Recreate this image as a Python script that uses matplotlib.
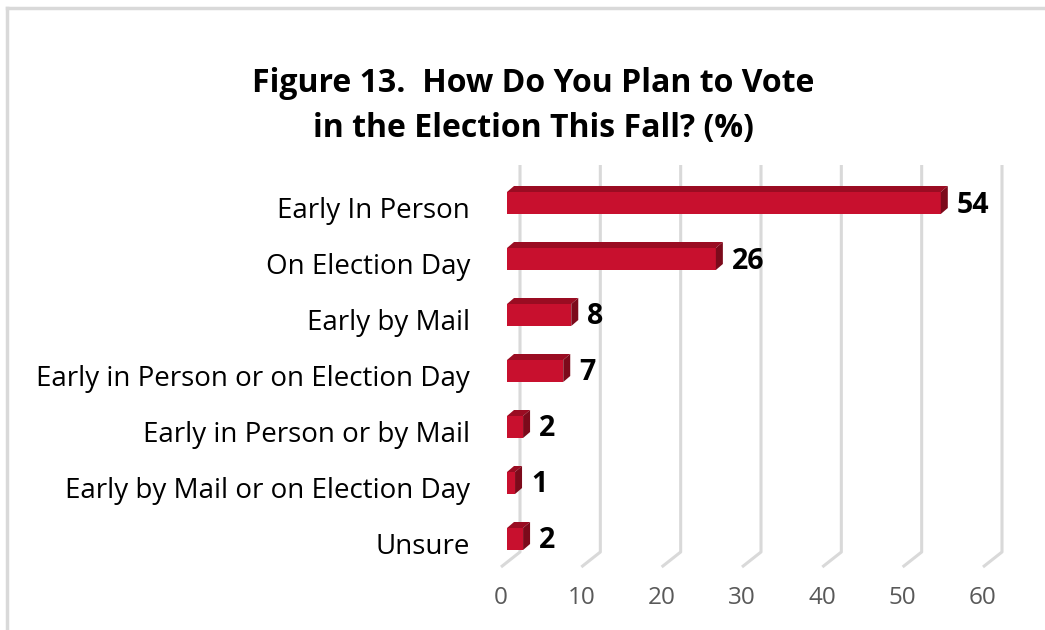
import matplotlib.pyplot as plt
from matplotlib.patches import Polygon, Rectangle
from matplotlib.lines import Line2D

plt.rcParams['font.family'] = ['Open Sans', 'DejaVu Sans']

categories = ['Early In Person', 'On Election Day', 'Early by Mail',
              'Early in Person or on Election Day', 'Early in Person or by Mail',
              'Early by Mail or on Election Day', 'Unsure']
values = [54, 26, 8, 7, 2, 1, 2]
ticks = [0, 10, 20, 30, 40, 50, 60]
title = 'Figure 13.  How Do You Plan to Vote\nin the Election This Fall? (%)'

W, H = 1045, 630
fig = plt.figure(figsize=(W / 100, H / 100), dpi=100)

# plot area in pixels: front plane of the floor runs 0..60
x0, x1 = 501, 983
top, bottom = 160, 575
row, first = 56, 203
ax = fig.add_axes([x0 / W, 1 - bottom / H, (x1 - x0) / W, (bottom - top) / H])
ax.set_xlim(0, 60)
ax.set_ylim((bottom - first) / row, (top - first) / row)
ax.axis('off')

px = 60 / (x1 - x0)   # data units per pixel, x
py = 1 / row          # data units per pixel, y (down is positive)

def ypix(p):
    return (p - first) / row

# back wall gridlines with a slanted foot to the front edge
grid = '#D9D9D9'
for t in ticks:
    xb = t + 19 * px
    ax.plot([xb, xb, t], [ypix(165), ypix(552), ypix(567)], color=grid,
            lw=2.2, clip_on=False, solid_capstyle='butt', zorder=1)
    ax.text(t, ypix(598), str(t), ha='center', va='center', fontsize=17.5,
            color='#595959')

# 3d-looking bars
face, cap, side = '#C8102E', '#9A0C22', '#7C0A1B'
dx, dy = 7 * px, -6 * py
for i, (cat, v) in enumerate(zip(categories, values)):
    xs = 6 * px
    xe = xs + v
    yt, yb = i - 11 * py, i + 11 * py
    ax.add_patch(Rectangle((xs, yt), v, yb - yt, facecolor=face,
                           edgecolor='none', zorder=3))
    ax.add_patch(Polygon([(xs, yt), (xe, yt), (xe + dx, yt + dy), (xs + dx, yt + dy)],
                         closed=True, facecolor=cap, edgecolor='none', zorder=3))
    ax.add_patch(Polygon([(xe, yt), (xe + dx, yt + dy), (xe + dx, yb + dy), (xe, yb)],
                         closed=True, facecolor=side, edgecolor='none', zorder=3))
    ax.text(xe + 16 * px, i + 2 * py, str(v), ha='left', va='center',
            fontsize=20.5, fontweight='bold', color='black', zorder=4)
    ax.text(-31 * px, i + 8 * py, cat, ha='right', va='center', fontsize=20,
            color='black', clip_on=False)

fig.text(533 / W, 1 - 106 / H, title, ha='center', va='center', fontsize=23,
         fontweight='bold', linespacing=1.5)

# outer frame (left and top edges)
fig.add_artist(Line2D([7 / W, 7 / W], [0, 1 - 8 / H], color=grid, lw=2.5,
                      transform=fig.transFigure))
fig.add_artist(Line2D([7 / W, 1], [1 - 8 / H, 1 - 8 / H], color=grid, lw=2.5,
                      transform=fig.transFigure))

fig.savefig('out.png', dpi=100)
